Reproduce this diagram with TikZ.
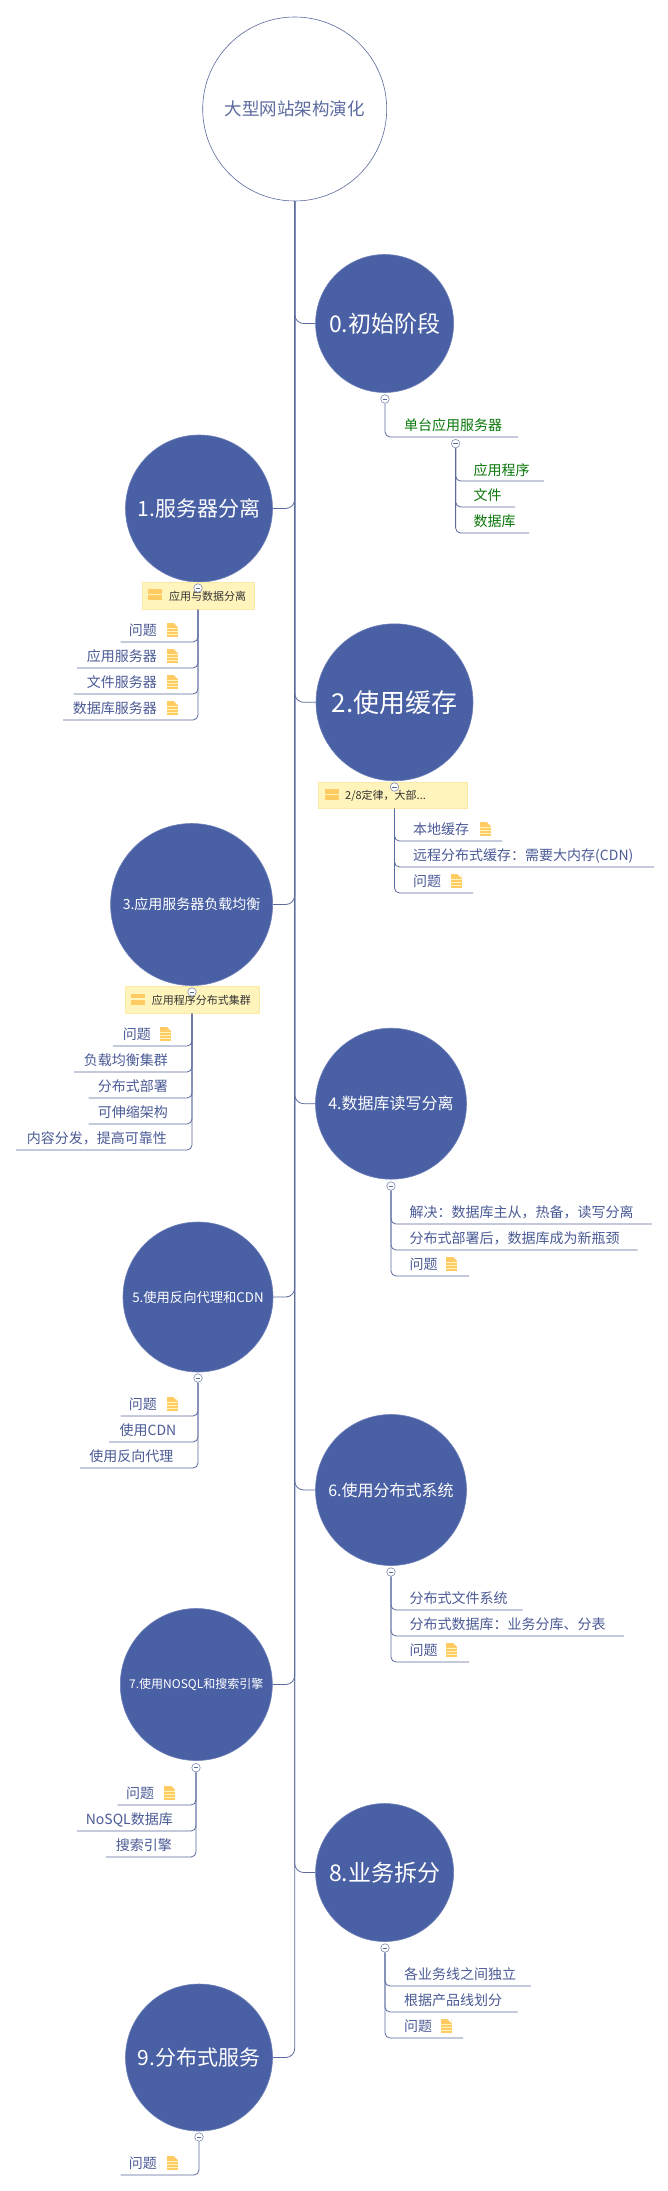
\documentclass[tikz,border=0pt]{standalone}
\usepackage{fontspec}
\setmainfont{Noto Sans CJK SC}
\definecolor{topicblue}{HTML}{4A60A5}
\definecolor{linkblue}{HTML}{5A6A9E}
\definecolor{textblue}{HTML}{4B5B96}
\definecolor{leafgreen}{HTML}{0A780A}
\definecolor{notefill}{HTML}{FFF4BC}
\definecolor{noteedge}{HTML}{FCE9A6}
\definecolor{iconfill}{HTML}{FFCB62}
\tikzset{
  link/.style={draw=linkblue, line width=0.8pt, rounded corners=5pt},
  mainlink/.style={draw=linkblue, line width=0.8pt, rounded corners=9pt},
  topic/.style={circle, fill=topicblue, draw=topicblue!80!white, line width=0.6pt, text=white, inner sep=0pt},
  fold/.style={circle, draw=linkblue!80!white, fill=white, line width=0.6pt, minimum size=8.5pt, inner sep=0pt,
    path picture={\draw[linkblue, line width=0.5pt] ([xshift=-2.2pt]path picture bounding box.center) -- ([xshift=2.2pt]path picture bounding box.center);}},
  itemtext/.style={text=textblue, inner sep=0pt, text height=12pt, text depth=2pt, font=\fontsize{14}{14}\selectfont},
  leaftext/.style={itemtext, text=leafgreen},
  notebox/.style={fill=notefill, draw=noteedge, line width=0.6pt, inner sep=0pt, anchor=north west},
  notetext/.style={text=black!80, inner sep=0pt, anchor=west, font=\fontsize{11}{11}\selectfont},
  noteicon/.style={fill=iconfill, minimum width=14pt, minimum height=11pt, inner sep=0pt,
    path picture={\draw[notefill, line width=1.2pt] (path picture bounding box.west) -- (path picture bounding box.east);}},
  fileicon/.style={fill=iconfill, minimum width=11pt, minimum height=14pt, inner sep=0pt,
    path picture={
      \fill[white] (path picture bounding box.north east) -- ++(-4pt,0pt) -- ++(4pt,-4pt) -- cycle;
      \draw[notefill, line width=0.5pt] ([yshift=1.5pt]path picture bounding box.west) -- ([yshift=1.5pt]path picture bounding box.east) ([yshift=-1.5pt]path picture bounding box.west) -- ([yshift=-1.5pt]path picture bounding box.east) ([yshift=-4.5pt]path picture bounding box.west) -- ([yshift=-4.5pt]path picture bounding box.east);}}
}
\begin{document}
\begin{tikzpicture}[x=1pt, y=-1pt] % y軸 downward, 1pt = 1px
  \useasboundingbox (0,0) rectangle (667,2191);
  \fill[white] (0,0) rectangle (667,2191);

  % root
  \node[circle, draw=linkblue, line width=0.6pt, fill=white, minimum size=184pt, inner sep=0pt, text=textblue!90!white, font=\fontsize{17.5}{17.5}\selectfont] (root) at (294.7,109) {大型网站架构演化};

  % topics
  \node[topic, minimum size=138pt, font=\fontsize{23}{23}\selectfont] (n0) at (384.6,323.5) {0.初始阶段};
  \node[topic, minimum size=147pt, font=\fontsize{21}{21}\selectfont] (n1) at (199,508.5) {1.服务器分离};
  \node[topic, minimum size=157pt, font=\fontsize{26}{26}\selectfont] (n2) at (394.5,702.3) {2.使用缓存};
  \node[topic, minimum size=162pt, font=\fontsize{14}{14}\selectfont] (n3) at (191.6,904.5) {3.应用服务器负载均衡};
  \node[topic, minimum size=151pt, font=\fontsize{16}{16}\selectfont] (n4) at (391,1103.7) {4.数据库读写分离};
  \node[topic, minimum size=150pt, font=\fontsize{13.3}{13.3}\selectfont] (n5) at (198,1297) {5.使用反向代理和CDN};
  \node[topic, minimum size=151pt, font=\fontsize{16}{16}\selectfont] (n6) at (391,1490) {6.使用分布式系统};
  \node[topic, minimum size=152pt, font=\fontsize{12}{12}\selectfont] (n7) at (196.3,1684.5) {7.使用NOSQL和搜索引擎};
  \node[topic, minimum size=138pt, font=\fontsize{23}{23}\selectfont] (n8) at (384.6,1872.5) {8.业务拆分};
  \node[topic, minimum size=147pt, font=\fontsize{21}{21}\selectfont] (n9) at (199,2057.5) {9.分布式服务};

  % trunk
  \draw[mainlink] (root.south) |- (n0.west);
  \draw[mainlink] (root.south) |- (n1.east);
  \draw[mainlink] (root.south) |- (n2.west);
  \draw[mainlink] (root.south) |- (n3.east);
  \draw[mainlink] (root.south) |- (n4.west);
  \draw[mainlink] (root.south) |- (n5.east);
  \draw[mainlink] (root.south) |- (n6.west);
  \draw[mainlink] (root.south) |- (n7.east);
  \draw[mainlink] (root.south) |- (n8.west);
  \draw[mainlink] (root.south) |- (n9.east);

  % 0
  \node[fold] (f0) at (385,399) {};
  \node[fold] (f00) at (455.6,443.6) {};
  \coordinate (e0) at (518,437);
  \coordinate (e0a) at (544,481);
  \coordinate (e0b) at (515,507);
  \coordinate (e0c) at (529,533);
  \draw[link] (f0) |- (e0);
  \draw[link] (f00) |- (e0a);
  \draw[link] (f00) |- (e0b);
  \draw[link] (f00) |- (e0c);
  \node[leaftext, anchor=west] (t0) at (404,425) {单台应用服务器};
  \node[leaftext, anchor=west] (t0a) at (473.5,470) {应用程序};
  \node[leaftext, anchor=west] (t0b) at (473.5,495) {文件};
  \node[leaftext, anchor=west] (t0c) at (473.5,521) {数据库};

  % 1
  \coordinate (e1a) at (120.5,642);
  \coordinate (e1b) at (77,668);
  \coordinate (e1c) at (73.5,694);
  \coordinate (e1d) at (63,720);
  \node[notebox, minimum width=112pt, minimum height=27pt] (b1) at (142,582) {};
  \node[noteicon] (i1) at (155,594.5) {};
  \node[notetext] (c1) at (169,596) {应用与数据分离};
  \node[fold] (f1) at (198,588) {};
  \draw[link] (b1.south -| f1) |- (e1a);
  \draw[link] (b1.south -| f1) |- (e1b);
  \draw[link] (b1.south -| f1) |- (e1c);
  \draw[link] (b1.south -| f1) |- (e1d);
  \node[itemtext, anchor=east] (t1a) at (157,630) {问题};
  \node[fileicon] (d1a) at (172.5,630) {};
  \node[itemtext, anchor=east] (t1b) at (157,656) {应用服务器};
  \node[fileicon] (d1b) at (172.5,656) {};
  \node[itemtext, anchor=east] (t1c) at (157,682) {文件服务器};
  \node[fileicon] (d1c) at (172.5,682) {};
  \node[itemtext, anchor=east] (t1d) at (157,708) {数据库服务器};
  \node[fileicon] (d1d) at (172.5,708) {};

  % 2
  \coordinate (e2a) at (502,841);
  \coordinate (e2b) at (654,867);
  \coordinate (e2c) at (473,893);
  \node[notebox, minimum width=149pt, minimum height=26pt] (b2) at (318,782) {};
  \node[noteicon] (i2) at (332,794.5) {};
  \node[notetext] (c2) at (345,796) {2/8定律，大部...};
  \node[fold] (f2) at (394.5,787) {};
  \draw[link] (b2.south -| f2) |- (e2a);
  \draw[link] (b2.south -| f2) |- (e2b);
  \draw[link] (b2.south -| f2) |- (e2c);
  \node[itemtext, anchor=west] (t2a) at (413,829) {本地缓存};
  \node[fileicon] (d2a) at (485.5,829) {};
  \node[itemtext, anchor=west] (t2b) at (413,855.5) {远程分布式缓存：需要大内存(CDN)};
  \node[itemtext, anchor=west] (t2c) at (413,881) {问题};
  \node[fileicon] (d2c) at (456,881) {};

  % 3
  \coordinate (e3a) at (113,1046);
  \coordinate (e3b) at (74,1072);
  \coordinate (e3c) at (88.5,1098);
  \coordinate (e3d) at (88.5,1124);
  \coordinate (e3e) at (16,1150);
  \node[notebox, minimum width=134pt, minimum height=27pt] (b3) at (125,986) {};
  \node[noteicon] (i3) at (137.8,999) {};
  \node[notetext] (c3) at (151.7,1000) {应用程序分布式集群};
  \node[fold] (f3) at (192,992) {};
  \draw[link] (b3.south -| f3) |- (e3a);
  \draw[link] (b3.south -| f3) |- (e3b);
  \draw[link] (b3.south -| f3) |- (e3c);
  \draw[link] (b3.south -| f3) |- (e3d);
  \draw[link] (b3.south -| f3) |- (e3e);
  \node[itemtext, anchor=east] (t3a) at (151,1034) {问题};
  \node[fileicon] (d3a) at (165.7,1034) {};
  \node[itemtext, anchor=east] (t3b) at (168,1060) {负载均衡集群};
  \node[itemtext, anchor=east] (t3c) at (168,1086) {分布式部署};
  \node[itemtext, anchor=east] (t3d) at (168,1112) {可伸缩架构};
  \node[itemtext, anchor=east] (t3e) at (167,1138) {内容分发，提高可靠性};

  % 4
  \node[fold] (f4) at (391,1186) {};
  \coordinate (e4a) at (651.7,1224);
  \coordinate (e4b) at (637.6,1250);
  \coordinate (e4c) at (469,1276);
  \draw[link] (f4) |- (e4a);
  \draw[link] (f4) |- (e4b);
  \draw[link] (f4) |- (e4c);
  \node[itemtext, anchor=west] (t4a) at (409.4,1212) {解决：数据库主从，热备，读写分离};
  \node[itemtext, anchor=west] (t4b) at (409.4,1238) {分布式部署后，数据库成为新瓶颈};
  \node[itemtext, anchor=west] (t4c) at (409.4,1264) {问题};
  \node[fileicon] (d4c) at (451.8,1264) {};

  % 5
  \node[fold] (f5) at (198,1378) {};
  \coordinate (e5a) at (120.5,1416);
  \coordinate (e5b) at (109,1442);
  \coordinate (e5c) at (80,1468);
  \draw[link] (f5) |- (e5a);
  \draw[link] (f5) |- (e5b);
  \draw[link] (f5) |- (e5c);
  \node[itemtext, anchor=east] (t5a) at (157,1404) {问题};
  \node[fileicon] (d5a) at (172,1404) {};
  \node[itemtext, anchor=east] (t5b) at (176.5,1430) {使用CDN};
  \node[itemtext, anchor=east] (t5c) at (173.5,1456) {使用反向代理};

  % 6
  \node[fold] (f6) at (391,1572) {};
  \coordinate (e6a) at (522.6,1610);
  \coordinate (e6b) at (624,1636);
  \coordinate (e6c) at (469,1662);
  \draw[link] (f6) |- (e6a);
  \draw[link] (f6) |- (e6b);
  \draw[link] (f6) |- (e6c);
  \node[itemtext, anchor=west] (t6a) at (409.4,1598) {分布式文件系统};
  \node[itemtext, anchor=west] (t6b) at (409.4,1624) {分布式数据库：业务分库、分表};
  \node[itemtext, anchor=west] (t6c) at (409.4,1650) {问题};
  \node[fileicon] (d6c) at (451.8,1650) {};

  % 7
  \node[fold] (f7) at (196,1767.7) {};
  \coordinate (e7a) at (117.5,1805);
  \coordinate (e7b) at (77,1831);
  \coordinate (e7c) at (106,1857);
  \draw[link] (f7) |- (e7a);
  \draw[link] (f7) |- (e7b);
  \draw[link] (f7) |- (e7c);
  \node[itemtext, anchor=east] (t7a) at (154.3,1793) {问题};
  \node[fileicon] (d7a) at (169.8,1793) {};
  \node[itemtext, anchor=east] (t7b) at (173,1819) {NoSQL数据库};
  \node[itemtext, anchor=east] (t7c) at (172,1845) {搜索引擎};

  % 8
  \node[fold] (f8) at (385,1948) {};
  \coordinate (e8a) at (530.8,1986);
  \coordinate (e8b) at (517.5,2012);
  \coordinate (e8c) at (463,2038);
  \draw[link] (f8) |- (e8a);
  \draw[link] (f8) |- (e8b);
  \draw[link] (f8) |- (e8c);
  \node[itemtext, anchor=west] (t8a) at (404,1974) {各业务线之间独立};
  \node[itemtext, anchor=west] (t8b) at (404,2000) {根据产品线划分};
  \node[itemtext, anchor=west] (t8c) at (404,2026) {问题};
  \node[fileicon] (d8c) at (446,2026) {};

  % 9
  \node[fold] (f9) at (199,2137) {};
  \coordinate (e9a) at (120.5,2175);
  \draw[link] (f9) |- (e9a);
  \node[itemtext, anchor=east] (t9a) at (157,2163) {问题};
  \node[fileicon] (d9a) at (172.5,2163) {};
\end{tikzpicture}
\end{document}
